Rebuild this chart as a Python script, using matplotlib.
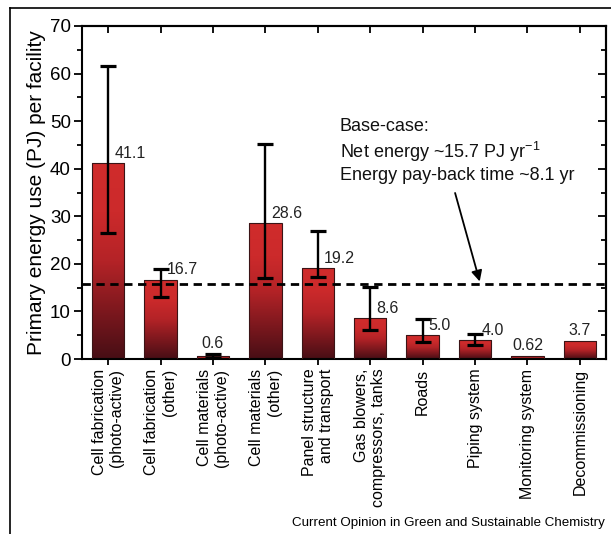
import numpy as np
import matplotlib
matplotlib.use("Agg")
import matplotlib.pyplot as plt
from matplotlib.colors import LinearSegmentedColormap
from matplotlib.lines import Line2D

plt.rcParams["font.family"] = ["Liberation Sans", "DejaVu Sans"]
plt.rcParams["mathtext.fontset"] = "custom"
plt.rcParams["mathtext.rm"] = "Liberation Sans"
plt.rcParams["mathtext.it"] = "Liberation Sans:italic"

# Energy inputs per facility component (PJ)
categories = [
    "Cell fabrication\n(photo-active)",
    "Cell fabrication\n(other)",
    "Cell materials\n(photo-active)",
    "Cell materials\n(other)",
    "Panel structure\nand transport",
    "Gas blowers,\ncompressors, tanks",
    "Roads",
    "Piping system",
    "Monitoring system",
    "Decommissioning",
]
values = [41.1, 16.7, 0.6, 28.6, 19.2, 8.6, 5.0, 4.0, 0.62, 3.7]
value_labels = ["41.1", "16.7", "0.6", "28.6", "19.2", "8.6", "5.0", "4.0", "0.62", "3.7"]
range_low = [26.4, 13.1, 0.3, 17.1, 17.2, 6.1, 3.6, 2.9, np.nan, np.nan]
range_high = [61.6, 19.0, 1.0, 45.3, 27.0, 15.1, 8.4, 5.2, np.nan, np.nan]
net_energy = 15.7
yticks = [0, 10, 20, 30, 40, 50, 60, 70]

fig = plt.figure(figsize=(6.11, 5.34), dpi=100)
W, H = 611, 534
ax = fig.add_axes([82 / W, (H - 359) / H, (606 - 82) / W, (359 - 26) / H])

x = np.arange(1, len(values) + 1)
bar_w = 0.62
bars = ax.bar(x, values, width=bar_w, facecolor="none",
              edgecolor="#3a1416", linewidth=0.8, zorder=3)

# vertical red gradient inside each bar
cmap = LinearSegmentedColormap.from_list(
    "redfade", ["#470e15", "#7e181e", "#b42327", "#cc2a2b", "#d02c2c"])
grad = np.linspace(0, 1, 256).reshape(-1, 1)
for xi, v, b in zip(x, values, bars):
    im = ax.imshow(grad, cmap=cmap, origin="lower", aspect="auto",
                   extent=[xi - bar_w / 2, xi + bar_w / 2, 0, v],
                   zorder=2, interpolation="bilinear")
    im.set_clip_path(b)

# asymmetric uncertainty ranges
vals = np.array(values)
lo = np.array(range_low)
hi = np.array(range_high)
has = ~np.isnan(lo)
ax.errorbar(x[has], vals[has], yerr=[vals[has] - lo[has], hi[has] - vals[has]],
            fmt="none", ecolor="black", elinewidth=1.7, capsize=6,
            capthick=2.3, zorder=5)

# value labels
centered = {"0.6", "0.62", "3.7"}
for xi, v, lab, h in zip(x, values, value_labels, hi):
    if lab in centered:
        top = v if np.isnan(h) else h
        ax.annotate(lab, (xi, top), xytext=(0, 2.5), textcoords="offset points",
                    ha="center", va="bottom", fontsize=11.5, color="#222222", zorder=6)
    else:
        ax.annotate(lab, (xi, v), xytext=(4.5, 1.5), textcoords="offset points",
                    ha="left", va="bottom", fontsize=11.5, color="#222222", zorder=6)

ax.axhline(net_energy, color="black", lw=2.0, ls=(0, (3, 2)), zorder=6)

ax.text(0.492, 0.697, "Base-case:", transform=ax.transAxes, fontsize=13,
        va="center", ha="left", color="#111111")
ax.text(0.492, 0.622, r"Net energy ~15.7 PJ yr$^{-1}$", transform=ax.transAxes,
        fontsize=13, va="center", ha="left", color="#111111")
ax.text(0.492, 0.550, "Energy pay-back time ~8.1 yr", transform=ax.transAxes,
        fontsize=13, va="center", ha="left", color="#111111")
ax.annotate("", xy=(8.09, 16.3), xytext=(7.62, 34.9),
            arrowprops=dict(arrowstyle="-|>", color="black", lw=1.3,
                            mutation_scale=16, shrinkA=0, shrinkB=0), zorder=7)

ax.set_xlim(0.5, 10.5)
ax.set_ylim(0, 70)
ax.set_yticks(yticks)
ax.set_yticks(np.arange(5, 70, 10), minor=True)
ax.tick_params(axis="y", which="major", direction="out", length=6, width=1.3,
               labelsize=13.5, pad=2)
ax.tick_params(axis="y", which="minor", direction="out", length=3.5, width=1.3)
ax.set_xticks(x)
ax.set_xticklabels(categories, rotation=90, va="top", ha="center",
                   multialignment="right", fontsize=11.5)
ax.tick_params(axis="x", direction="out", length=4, width=1.3, pad=3, top=False)

# inward ticks on the top and right edges
secx = ax.secondary_xaxis("top")
secx.set_xticks(x)
secx.set_xticklabels([])
secx.tick_params(direction="in", length=5, width=1.3)
secy = ax.secondary_yaxis("right")
secy.set_yticks(yticks)
secy.set_yticks(np.arange(5, 70, 10), minor=True)
secy.set_yticklabels([])
secy.tick_params(which="major", direction="in", length=6, width=1.3)
secy.tick_params(which="minor", direction="in", length=3.5, width=1.3)

for sp in ax.spines.values():
    sp.set_linewidth(1.5)
for sec in (secx, secy):
    for sp in sec.spines.values():
        sp.set_linewidth(1.5)

ax.set_ylabel("Primary energy use (PJ) per facility", fontsize=15, labelpad=3)

# outer frame lines and source credit
fig.add_artist(Line2D([10 / W, 1], [1 - 8 / H, 1 - 8 / H], color="black", lw=1.2))
fig.add_artist(Line2D([10 / W, 10 / W], [0, 1 - 8 / H], color="black", lw=1.2))
fig.text(605 / W, 1 - 523 / H, "Current Opinion in Green and Sustainable Chemistry",
         ha="right", va="center", fontsize=9.6)

fig.savefig("out.png", dpi=100)
